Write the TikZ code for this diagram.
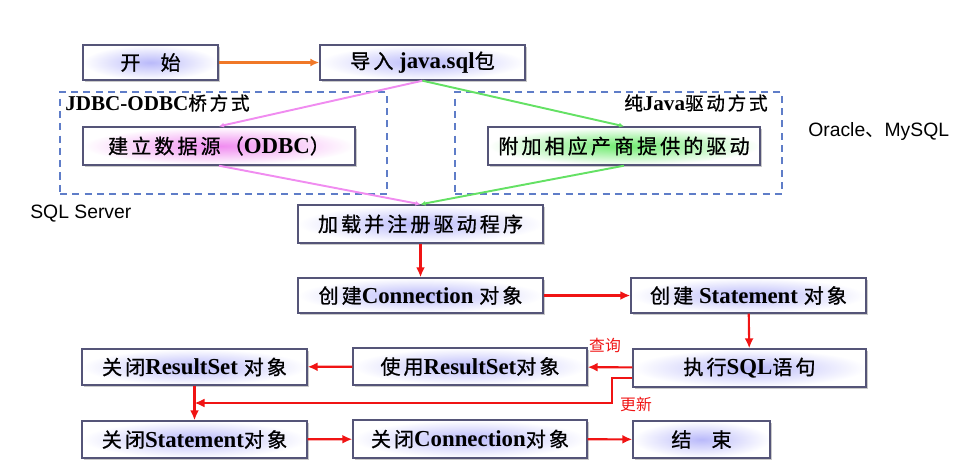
\documentclass[tikz,border=0pt]{standalone}
\usepackage{fontspec}
\setmainfont{Liberation Serif}
\setsansfont{Liberation Sans}
\newfontfamily\cjk[Scale=0.88,LetterSpace=15,FakeBold=0.8]{Noto Sans CJK SC}
\newfontfamily\cjknote{Noto Sans CJK SC}
\newcommand{\zh}[1]{{\cjk\mdseries #1}}
\usepackage{tikz}
\usetikzlibrary{arrows.meta,positioning,calc,shadows}
\definecolor{boxline}{RGB}{85,85,120}
\definecolor{glowblue}{RGB}{185,185,250}
\definecolor{glowpink}{RGB}{240,140,240}
\definecolor{glowgreen}{RGB}{110,235,110}
\definecolor{groupline}{RGB}{95,125,200}
\definecolor{linkpink}{RGB}{240,140,240}
\definecolor{linkgreen}{RGB}{100,225,100}
\definecolor{flowred}{RGB}{240,20,20}
\definecolor{startorange}{RGB}{240,120,40}

\begin{document}
\begin{tikzpicture}[
  stepbox/.style={draw=boxline,thick,shade,inner color=glowblue,outer color=white,
    drop shadow={shadow xshift=1pt,shadow yshift=-1pt,opacity=0.35,fill=black!60},
    minimum height=0.74cm,inner sep=1pt,font=\fontsize{13}{15}\selectfont\bfseries},
  group/.style={draw=groupline,thick,dash pattern=on 4pt off 3pt},
  grouplabel/.style={inner sep=0pt,font=\fontsize{12}{14}\selectfont\bfseries},
  dbnote/.style={inner sep=0pt,font=\sffamily\fontsize{11}{13}\selectfont},
  flownote/.style={inner sep=0pt,text=flowred,font=\cjknote\fontsize{9}{11}\selectfont},
  startlink/.style={-{Latex[length=1.8mm,width=1.6mm]},draw=startorange,line width=1.3pt},
  odbclink/.style={-{Latex[length=1mm,width=1mm]},draw=linkpink,line width=1.1pt},
  javalink/.style={-{Latex[length=1mm,width=1mm]},draw=linkgreen,line width=1.1pt},
  flow/.style={-{Latex[length=2mm,width=1.8mm]},draw=flowred,line width=1.2pt}
]
\useasboundingbox (0,0) rectangle (19.48,-9.46);
% the two ways of loading a driver
\node[group,minimum width=6.54cm,minimum height=2.04cm] (bridge) at (4.47,-2.86) {};
\node[group,minimum width=6.54cm,minimum height=2.04cm] (purejava) at (12.37,-2.86) {};
\node[grouplabel,anchor=west] (bridgelabel) at (1.3,-2.06) {JDBC-ODBC\zh{桥方式}};
\node[grouplabel,anchor=east] (purejavalabel) at (15.36,-2.06) {\zh{纯}Java\zh{驱动方式}};

\node[stepbox,minimum width=2.7cm,minimum height=0.7cm] (start) at (3.01,-1.25)
  {\zh{开\quad 始}};
\node[stepbox,minimum width=4.1cm,minimum height=0.7cm] (import) at (8.45,-1.25)
  {\zh{导入} java.sql\zh{包}};
\node[stepbox,minimum width=5.44cm,minimum height=0.76cm,inner color=glowpink] (odbc) at (4.38,-2.92)
  {\zh{建立数据源（}ODBC\zh{）}};
\node[stepbox,minimum width=5.44cm,minimum height=0.76cm,inner color=glowgreen] (vendor) at (12.48,-2.92)
  {\zh{附加相应产商提供的驱动}};
\node[stepbox,minimum width=4.9cm,minimum height=0.76cm] (load) at (8.41,-4.48)
  {\zh{加载并注册驱动程序}};
\node[stepbox,minimum width=4.9cm,minimum height=0.7cm] (conn) at (8.41,-5.91)
  {\zh{创建}Connection \zh{对象}};
\node[stepbox,minimum width=4.7cm,minimum height=0.7cm] (stmt) at (14.97,-5.91)
  {\zh{创建} Statement \zh{对象}};
\node[stepbox,minimum width=4.66cm,minimum height=0.76cm] (exec) at (14.99,-7.36)
  {\zh{执行}SQL\zh{语句}};
\node[stepbox,minimum width=4.68cm] (use) at (9.40,-7.33)
  {\zh{使用}ResultSet\zh{对象}};
\node[stepbox,minimum width=4.5cm,minimum height=0.72cm] (closers) at (3.89,-7.34)
  {\zh{关闭}ResultSet \zh{对象}};
\node[stepbox,minimum width=4.5cm] (closestmt) at (3.89,-8.79)
  {\zh{关闭}Statement\zh{对象}};
\node[stepbox,minimum width=4.68cm,minimum height=0.76cm] (closeconn) at (9.40,-8.78)
  {\zh{关闭}Connection\zh{对象}};
\node[stepbox,minimum width=2.74cm] (finish) at (14.03,-8.79)
  {\zh{结\quad 束}};

\node[dbnote,anchor=west] (oracle) at (16.16,-2.62) {Oracle{\cjknote 、}MySQL};
\node[dbnote,anchor=west] (sqlserver) at (0.6,-4.28) {SQL Server};
\node[flownote] (query) at (12.1,-6.9) {查询};
\node[flownote] (update) at (12.72,-8.08) {更新};

\draw[startlink] (start)--(import);
\draw[odbclink] (import.south)--(odbc.north);
\draw[javalink] (import.south)--(vendor.north);
\draw[odbclink] (odbc.south)--(load.north);
\draw[javalink] (vendor.south)--(load.north);
\draw[flow] (load)--(conn);
\draw[flow] (conn)--(stmt);
\draw[flow] (stmt)--(exec);
\draw[flow] (exec)--(use);
\draw[flow] (use)--(closers);
\coordinate (joint) at ($(closers.south)!0.5!(closestmt.north)$);
\draw[flow] ([yshift=-0.2cm]exec.west)--++(-0.4,0) |- (joint);
\draw[flow] (closers)--(closestmt);
\draw[flow] (closestmt)--(closeconn);
\draw[flow] (closeconn)--(finish);
\end{tikzpicture}
\end{document}
